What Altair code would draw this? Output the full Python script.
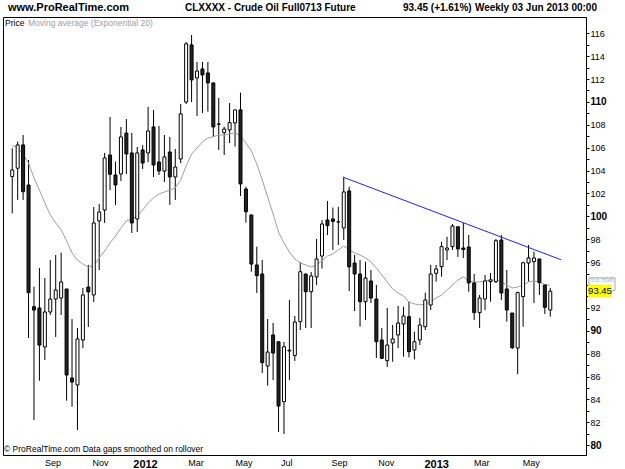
import altair as alt
import pandas as pd

# ---- data (weekly candles) ----
dates = pd.date_range("2011-07-11", periods=100, freq="7D").strftime("%Y-%m-%d").tolist()

opens = [103.47, 104.20, 106.24, 102.74, 92.10, 91.99, 88.58, 91.64, 92.77, 92.86,
         93.65, 85.87, 85.26, 89.19, 93.82, 93.13, 99.59, 100.55, 105.36, 103.61,
         103.70, 107.28, 105.54, 99.77, 105.80, 105.54, 107.81, 104.75, 103.96, 105.62,
         103.44, 105.01, 109.99, 114.98, 112.09, 112.88, 112.53, 111.66, 108.05, 107.31,
         107.55, 108.16, 109.30, 102.39, 100.12, 95.75, 94.96, 86.92, 89.63, 89.04,
         83.80, 88.23, 87.84, 90.79, 94.96, 93.41, 94.70, 96.53, 99.68, 99.77,
         99.50, 98.98, 102.22, 95.92, 94.96, 92.54, 94.35, 92.77, 89.19, 87.38,
         88.93, 89.63, 90.59, 91.23, 88.32, 89.19, 90.35, 92.25, 95.02, 95.60,
         97.06, 97.35, 99.09, 97.23, 97.32, 94.18, 91.58, 92.77, 94.29, 94.29,
         97.93, 93.65, 91.55, 88.49, 92.98, 95.92, 96.04, 96.27, 94.00, 91.81]
highs = [105.95, 106.53, 107.11, 104.92, 93.85, 95.49, 94.61, 96.18, 96.62, 96.82,
         93.65, 91.03, 90.24, 93.74, 95.75, 100.82, 101.08, 105.54, 108.68, 104.78,
         107.81, 108.51, 107.29, 106.06, 106.24, 109.56, 109.30, 107.90, 107.11, 106.94,
         105.89, 109.82, 115.24, 115.85, 113.49, 113.49, 113.49, 111.66, 110.34, 107.84,
         109.91, 109.30, 110.81, 102.59, 100.12, 97.35, 96.18, 91.03, 90.68, 89.04,
         89.02, 92.69, 91.29, 96.01, 94.96, 95.13, 98.02, 99.68, 101.34, 100.77,
         100.83, 103.46, 102.59, 96.62, 96.18, 96.03, 95.31, 94.00, 90.24, 91.99,
         90.50, 92.16, 92.10, 92.54, 89.92, 91.12, 93.33, 95.75, 95.75, 97.78,
         98.22, 99.33, 99.09, 99.42, 98.37, 94.96, 93.13, 94.87, 95.05, 98.02,
         98.37, 95.31, 91.55, 93.41, 96.03, 97.50, 96.91, 96.27, 94.00, 93.74]
lows = [100.26, 101.43, 101.43, 89.37, 82.20, 85.63, 87.44, 91.38, 89.45, 91.38,
        83.89, 83.36, 81.32, 88.49, 90.33, 92.51, 95.31, 99.42, 102.30, 100.99,
        103.09, 103.70, 98.54, 98.63, 104.14, 104.75, 103.44, 103.61, 103.00, 101.00,
        101.43, 104.66, 109.82, 109.99, 108.77, 109.03, 109.15, 106.94, 105.80, 105.36,
        106.41, 106.09, 101.78, 99.45, 95.16, 93.30, 86.31, 85.20, 85.69, 81.15,
        80.97, 85.69, 87.35, 90.06, 90.24, 90.24, 94.00, 95.44, 98.37, 97.06,
        97.50, 97.93, 93.48, 91.72, 90.35, 90.94, 92.43, 87.62, 87.53, 86.83,
        87.29, 88.49, 87.73, 87.68, 87.50, 88.75, 90.06, 91.81, 94.29, 94.72,
        96.18, 97.06, 96.45, 96.36, 93.41, 90.94, 90.24, 91.81, 92.54, 94.17,
        92.69, 90.79, 88.40, 86.22, 90.35, 94.29, 92.43, 93.13, 91.46, 91.23]
closes = [104.05, 106.24, 102.15, 93.33, 91.81, 88.75, 91.64, 92.77, 93.56, 94.26,
          86.13, 85.52, 89.28, 93.13, 93.39, 99.42, 100.38, 105.10, 103.68, 102.74,
          106.94, 105.45, 99.42, 105.54, 104.66, 107.46, 104.49, 103.96, 105.19, 103.44,
          104.31, 108.95, 115.07, 111.92, 112.70, 112.36, 111.66, 107.81, 108.07, 107.63,
          108.19, 109.30, 102.83, 100.40, 95.83, 94.81, 87.21, 88.14, 88.05, 83.42,
          88.60, 88.30, 90.76, 95.16, 93.41, 94.79, 96.27, 99.33, 99.18, 99.56,
          99.52, 102.13, 95.58, 94.96, 92.54, 94.61, 92.86, 89.04, 87.59, 88.75,
          89.28, 90.68, 91.29, 88.17, 89.04, 90.50, 92.69, 94.96, 95.40, 97.35,
          97.23, 99.15, 97.15, 97.10, 94.18, 91.58, 92.86, 94.35, 94.44, 97.87,
          93.30, 91.81, 88.52, 93.33, 95.94, 96.36, 96.36, 94.20, 92.05, 93.45]
ema20 = [106.15, 106.06, 105.36, 104.66, 103.35, 102.30, 101.17, 100.12, 99.42, 98.81,
         97.85, 96.80, 96.18, 95.83, 95.57, 95.66, 96.36, 96.97, 97.67, 98.28,
         98.98, 99.59, 99.77, 100.03, 100.55, 101.17, 101.60, 101.95, 102.13, 102.30,
         102.48, 103.18, 104.40, 105.45, 105.97, 106.50, 106.85, 106.96, 107.11, 107.11,
         107.20, 107.29, 107.02, 106.41, 105.71, 104.57, 103.18, 101.69, 100.20, 98.63,
         97.67, 96.88, 96.27, 95.92, 95.75, 95.57, 95.75, 96.10, 96.53, 96.71,
         97.06, 97.41, 97.06, 96.80, 96.62, 96.36, 96.01, 95.49, 94.87, 94.26,
         93.65, 93.30, 93.04, 92.51, 92.34, 92.25, 92.34, 92.51, 92.86, 93.12,
         93.56, 94.00, 94.44, 94.70, 94.35, 94.26, 94.26, 94.35, 94.44, 94.44,
         94.26, 94.00, 93.74, 93.82, 94.00, 94.26, 94.35, 94.26, 94.05, 93.97]

trend_dates = ["2012-09-10", "2013-06-17"]
trend_values = [103.40, 96.20]

# where the month labels sit under the candles
tick_dates = [(2011, 9, 1), (2011, 11, 1), (2011, 12, 29), (2012, 3, 3), (2012, 5, 4),
              (2012, 6, 28), (2012, 9, 4), (2012, 11, 3), (2013, 1, 7), (2013, 3, 6),
              (2013, 5, 9)]
price_ticks = list(range(80, 117))

last_close = 93.45
last_ema = 93.968

FONT = "Liberation Sans"

df = pd.DataFrame({"date": dates, "open": opens, "high": highs, "low": lows,
                   "close": closes, "ema": ema20})

xscale = alt.Scale(type="utc",
                   domain=[alt.DateTime(year=2011, month=7, date=5, hours=13, utc=True),
                           alt.DateTime(year=2013, month=7, date=12, hours=14, utc=True)])
yscale = alt.Scale(domain=[79.14, 117.42], nice=False, zero=False)

WEEK_MS = 7 * 86400000
is_year = f"utcmonth(datum.value + {WEEK_MS}) == 0"
xaxis = alt.Axis(
    values=[alt.DateTime(year=y, month=m, date=d, utc=True) for (y, m, d) in tick_dates],
    labelExpr=f"{is_year} ? utcFormat(datum.value + {WEEK_MS}, '%Y') : utcFormat(datum.value + {WEEK_MS}, '%b')",
    labelFontWeight={"condition": {"test": is_year, "value": "bold"}, "value": "normal"},
    labelFontSize={"condition": {"test": is_year, "value": 11}, "value": 9},
    labelFont=FONT, labelColor="black", ticks=False, domain=False, grid=False,
    labelPadding=3, title=None, labelFlush=False, labelOverlap=False,
)
yaxis = alt.Axis(
    orient="right", values=price_ticks,
    # the 94 label is covered by the price tags in the original
    labelExpr="(datum.value % 2 == 0 && datum.value != 94) ? '' + datum.value : ''",
    labelFontWeight={"condition": {"test": "datum.value % 10 == 0", "value": "bold"}, "value": "normal"},
    labelFontSize={"condition": {"test": "datum.value % 10 == 0", "value": 10}, "value": 9},
    labelFont=FONT, labelColor="black", tickSize=3, tickColor="black",
    domainColor="black", grid=False, labelPadding=1, title=None, labelBound=False,
    labelOverlap=False, labelSeparation=0,
)

X = alt.X("date:T", scale=xscale, axis=xaxis)

def Y(field):
    return alt.Y(field, scale=yscale, axis=yaxis)

base = alt.Chart(df)

wicks = base.mark_rule(color="black", strokeWidth=1).encode(
    x=X, y=Y("low:Q"), y2="high:Q",
)
bodies = base.mark_bar(size=3, stroke="black", strokeWidth=1).encode(
    x=X, y=Y("open:Q"), y2="close:Q",
    fill=alt.condition("datum.close >= datum.open", alt.value("white"), alt.value("#222222")),
)
ema_line = base.mark_line(color="#a0a0a0", strokeWidth=1).encode(
    x=X, y=Y("ema:Q"),
)
trend = alt.Chart(pd.DataFrame({"date": trend_dates, "v": trend_values})).mark_line(
    color="#2020ff", strokeWidth=1).encode(x=X, y=Y("v:Q"))

# price tags on the right
ema_tag_df = pd.DataFrame({"v": [last_ema], "t": [f"{last_ema:.3f}"]})
ema_box = alt.Chart(ema_tag_df).transform_calculate(
    lo="datum.v - 0.45", hi="datum.v + 0.65").mark_rect(
    fill="white", stroke="#9aaac8", strokeWidth=1).encode(
    x=alt.value(586), x2=alt.value(612), y=Y("lo:Q"), y2="hi:Q")
ema_txt = alt.Chart(ema_tag_df).transform_calculate(
    tv="datum.v + 0.12").mark_text(
    font=FONT, fontSize=7.5, color="#b8b8b8", align="center", baseline="bottom").encode(
    x=alt.value(599), y=Y("tv:Q"), text="t:N")

close_tag_df = pd.DataFrame({"v": [last_close], "t": [f"{last_close:.2f}"]})
close_box = alt.Chart(close_tag_df).transform_calculate(
    lo="datum.v - 0.55", hi="datum.v + 0.55").mark_rect(fill="#ffff00").encode(
    x=alt.value(585), x2=alt.value(609), y=Y("lo:Q"), y2="hi:Q")
close_txt = alt.Chart(close_tag_df).mark_text(
    font=FONT, fontSize=9.5, color="black", align="center", baseline="middle").encode(
    x=alt.value(597), y=Y("v:Q"), text="t:N")

def label(txt, x, y, size, weight="normal", color="black", align="left"):
    return alt.Chart(pd.DataFrame({"t": [txt]})).mark_text(
        font=FONT, fontSize=size, fontWeight=weight, color=color,
        align=align, baseline="middle").encode(
        x=alt.value(x), y=alt.value(y), text="t:N")

texts = [
    label("www.ProRealTime.com", 5, -9, 11, "bold"),
    label("CLXXXX - Crude Oil Full0713 Future", 182, -9, 10, "bold"),
    label("93.45 (+1.61%)", 400, -9, 10, "bold"),
    label("Weekly  03 Jun 2013 00:00", 594, -9, 10, "bold", align="right"),
    label("Price", 2, 6, 8.5),
    label("Moving average (Exponential 20)", 25, 6, 8.5, color="#a0a0a0"),
    label("\u00a9 ProRealTime.com  Data gaps smoothed on rollover", 1, 432, 8.5),
]

chart = alt.layer(
    wicks, ema_line, bodies, trend, ema_box, ema_txt, close_box, close_txt, *texts
).properties(
    width=583, height=438,
    autosize=alt.AutoSizeParams(type="none"),
    padding={"left": 3, "top": 17, "right": 39, "bottom": 14},
    background="white",
).configure_view(stroke="black", strokeWidth=1)

chart.save("out.html", embed_options={"renderer": "svg", "actions": False})
